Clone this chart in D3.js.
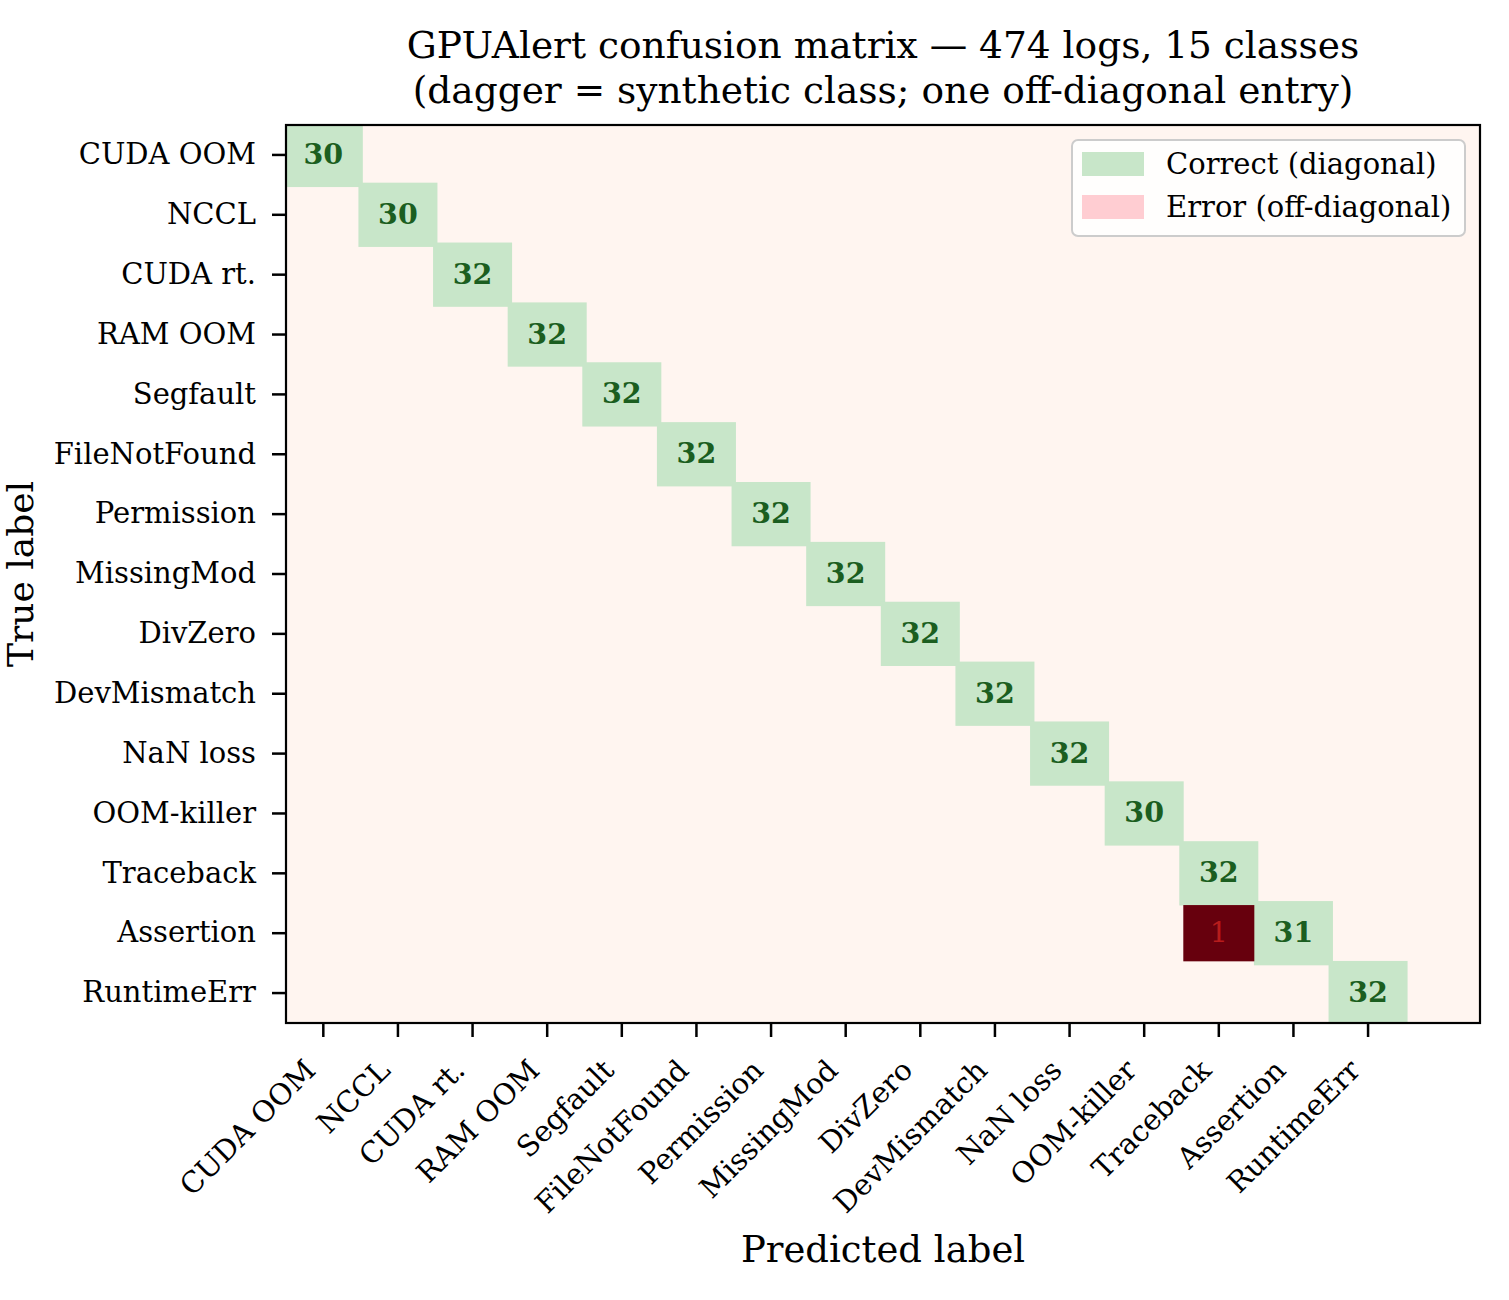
<!DOCTYPE html>
<html><head><meta charset="utf-8">
<script src="https://cdn.jsdelivr.net/npm/d3@7"></script>
<style>body{margin:0;background:#fff}svg{display:block}text{font-family:"DejaVu Serif",serif}</style>
</head><body>
<script>
const classes = ["CUDA OOM","NCCL","CUDA rt.","RAM OOM","Segfault","FileNotFound","Permission","MissingMod","DivZero","DevMismatch","NaN loss","OOM-killer","Traceback","Assertion","RuntimeErr"];
const diagonalCounts = [30,30,32,32,32,32,32,32,32,32,32,30,32,31,32];
const errorTrue = ["Assertion"];
const errorPred = ["Traceback"];
const errorCounts = [1];
const nPredColumns = 16; // one extra (unlabelled) predicted column
const titleLines = ["GPUAlert confusion matrix \u2014 474 logs, 15 classes","(dagger = synthetic class; one off-diagonal entry)"];
const legendLabels = ["Correct (diagonal)","Error (off-diagonal)"];

const W=1509,H=1300;
const m={left:286,top:125,right:1480,bottom:1023};
const svg=d3.select("body").append("svg").attr("width",W).attr("height",H);
const x=d3.scaleBand().domain(d3.range(nPredColumns)).range([m.left,m.right]).padding(0);
const y=d3.scaleBand().domain(d3.range(classes.length)).range([m.top,m.bottom]).padding(0);
const bg="#fff5f0", green="#c8e6c9", red="#ffcdd2";

svg.append("clipPath").attr("id","ax").append("rect")
  .attr("x",m.left).attr("y",m.top).attr("width",m.right-m.left).attr("height",m.bottom-m.top);
const g=svg.append("g").attr("clip-path","url(#ax)");
g.append("rect").attr("x",m.left).attr("y",m.top).attr("width",m.right-m.left).attr("height",m.bottom-m.top).attr("fill",bg);

const pad=2.2;
const diag=classes.map((c,i)=>({i,v:diagonalCounts[i]}));
g.selectAll("rect.d").data(diag).join("rect").attr("class","d")
  .attr("x",d=>x(d.i)-pad).attr("y",d=>y(d.i)-pad)
  .attr("width",x.bandwidth()+2*pad).attr("height",y.bandwidth()+2*pad).attr("fill",green);
const errs=errorCounts.map((v,k)=>({r:classes.indexOf(errorTrue[k]),c:classes.indexOf(errorPred[k]),v}));
g.selectAll("rect.e").data(errs).join("rect").attr("class","e")
  .attr("x",d=>x(d.c)+1.8).attr("y",d=>y(d.r)+1.8)
  .attr("width",x.bandwidth()-3.6).attr("height",y.bandwidth()-3.6).attr("fill","#67000d");
g.selectAll("text.d").data(diag).join("text").attr("class","d")
  .attr("x",d=>x(d.i)+x.bandwidth()/2).attr("y",d=>y(d.i)+y.bandwidth()/2-1)
  .attr("text-anchor","middle").attr("dominant-baseline","central")
  .attr("font-size",28.5).attr("font-weight","bold").attr("fill","#1b5e20").text(d=>d.v);
g.selectAll("text.e").data(errs).join("text").attr("class","e")
  .attr("x",d=>x(d.c)+x.bandwidth()/2).attr("y",d=>y(d.r)+y.bandwidth()/2-1)
  .attr("text-anchor","middle").attr("dominant-baseline","central")
  .attr("font-size",28.5).attr("fill","#b71c1c").text(d=>d.v);

// axes
const yAxis=d3.axisLeft(y).tickSize(14).tickPadding(16).tickFormat(i=>classes[i]);
const ya=svg.append("g").attr("transform",`translate(${m.left},0)`).call(yAxis);
const xAxis=d3.axisBottom(x).tickValues(d3.range(classes.length)).tickSize(14).tickFormat(i=>classes[i]);
const xa=svg.append("g").attr("transform",`translate(0,${m.bottom})`).call(xAxis);
[ya,xa].forEach(a=>{a.select(".domain").remove();a.selectAll(".tick line").attr("stroke","#000").attr("stroke-width",2.5);
  a.selectAll("text").attr("font-size",29).attr("fill","#000").attr("font-family","DejaVu Serif");});
xa.selectAll(".tick text").attr("text-anchor","end").attr("dy",null).attr("y",0)
  .attr("transform","translate(-6,49) rotate(-45)");
svg.append("rect").attr("x",m.left).attr("y",m.top).attr("width",m.right-m.left).attr("height",m.bottom-m.top)
  .attr("fill","none").attr("stroke","#000").attr("stroke-width",2.2);

// labels
svg.append("text").attr("x",(m.left+m.right)/2).attr("y",1262).attr("text-anchor","middle").attr("font-size",37).text("Predicted label");
svg.append("text").attr("transform",`translate(33,${(m.top+m.bottom)/2}) rotate(-90)`).attr("text-anchor","middle").attr("font-size",36).text("True label");
svg.selectAll("text.title").data(titleLines).join("text").attr("class","title")
  .attr("x",(m.left+m.right)/2).attr("y",(d,i)=>58+i*45).attr("text-anchor","middle").attr("font-size",37.5).text(d=>d);

// legend
const lg=svg.append("g");
lg.append("rect").attr("x",1072).attr("y",140).attr("width",393).attr("height",96).attr("rx",6)
  .attr("fill","#fff").attr("fill-opacity",0.85).attr("stroke","#cccccc").attr("stroke-width",2);
lg.selectAll("rect.p").data(legendLabels).join("rect").attr("class","p")
  .attr("x",1082).attr("y",(d,i)=>152+i*43).attr("width",62).attr("height",24).attr("fill",(d,i)=>i?red:green);
lg.selectAll("text").data(legendLabels).join("text").attr("x",1166).attr("y",(d,i)=>164+i*43)
  .attr("dominant-baseline","central").attr("font-size",29).text(d=>d);
</script>
</body></html>
